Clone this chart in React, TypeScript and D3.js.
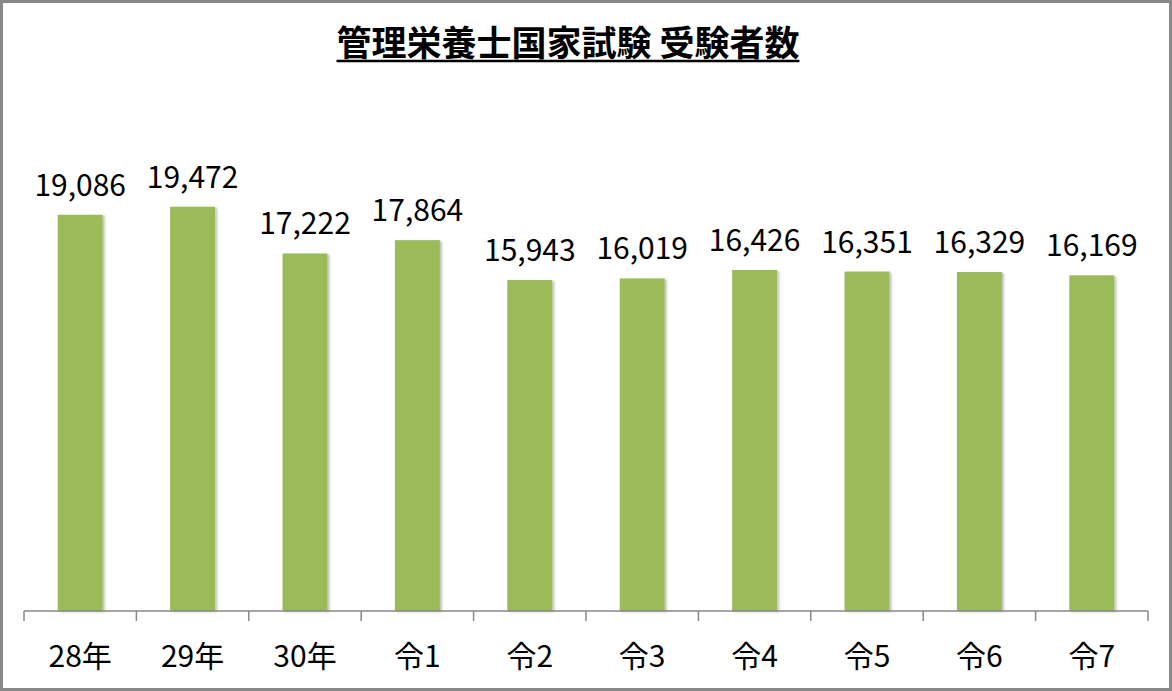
import React, { useEffect, useRef } from 'react';
import * as d3 from 'd3';

const categories = ['28年', '29年', '30年', '令1', '令2', '令3', '令4', '令5', '令6', '令7'];
const examinees = [19086, 19472, 17222, 17864, 15943, 16019, 16426, 16351, 16329, 16169];
const chartTitle = '管理栄養士国家試験 受験者数';

const App: React.FC = () => {
  const svgRef = useRef<SVGSVGElement>(null);

  useEffect(() => {
    if (!svgRef.current) return;
    const width = 1172;
    const height = 691;
    const font = '"Noto Sans CJK JP", "Noto Sans", sans-serif';

    const svg = d3.select(svgRef.current);
    svg.selectAll('*').remove();
    svg.attr('width', width).attr('height', height).attr('viewBox', `0 0 ${width} ${height}`);

    // drop shadow for bars
    const defs = svg.append('defs');
    const f = defs.append('filter').attr('id', 'shadow').attr('x', '-20%').attr('y', '-5%').attr('width', '150%').attr('height', '110%');
    f.append('feDropShadow').attr('dx', 2).attr('dy', 1).attr('stdDeviation', 1.2).attr('flood-color', '#000').attr('flood-opacity', 0.25);

    svg.append('rect')
      .attr('x', 1.5).attr('y', 1.5)
      .attr('width', width - 3).attr('height', height - 3)
      .attr('fill', '#fff').attr('stroke', '#888').attr('stroke-width', 3);

    // title
    const title = svg.append('text')
      .attr('x', 568).attr('y', 56)
      .attr('text-anchor', 'middle')
      .style('font-family', font)
      .style('font-size', '35px')
      .style('font-weight', 'bold')
      .attr('fill', '#000')
      .text(chartTitle);
    const tb = (title.node() as SVGTextElement).getBBox();
    svg.append('line')
      .attr('x1', tb.x).attr('x2', tb.x + tb.width)
      .attr('y1', 61).attr('y2', 61)
      .attr('stroke', '#000').attr('stroke-width', 2.5);

    const x = d3.scaleBand<string>().domain(categories).range([24, 1148]).paddingInner(0.6).paddingOuter(0.3);
    const band = d3.scaleBand<string>().domain(categories).range([24, 1148]);
    const y = d3.scaleLinear().domain([0, 25000]).range([611, 92]);

    svg.append('g')
      .selectAll('rect')
      .data(examinees)
      .enter()
      .append('rect')
      .attr('x', (_, i) => x(categories[i]) as number)
      .attr('y', d => y(d))
      .attr('width', x.bandwidth())
      .attr('height', d => y(0) - y(d))
      .attr('fill', '#9BBB59')
      .attr('filter', 'url(#shadow)');

    const fmt = d3.format(',');
    svg.append('g')
      .selectAll('text')
      .data(examinees)
      .enter()
      .append('text')
      .attr('x', (_, i) => (x(categories[i]) as number) + x.bandwidth() / 2)
      .attr('y', d => y(d) - 19)
      .attr('text-anchor', 'middle')
      .style('font-family', font)
      .style('font-size', '30px')
      .attr('fill', '#000')
      .text(d => fmt(d));

    // axis
    const axis = svg.append('g').attr('transform', 'translate(0,611)');
    axis.append('line').attr('x1', 24).attr('x2', 1148).attr('stroke', '#888').attr('stroke-width', 1.5);
    const tickPos = categories.map(c => band(c) as number).concat([1148]);
    axis.selectAll('line.tick')
      .data(tickPos)
      .enter()
      .append('line')
      .attr('class', 'tick')
      .attr('x1', d => d).attr('x2', d => d)
      .attr('y1', 0).attr('y2', 10)
      .attr('stroke', '#888').attr('stroke-width', 1.5);

    axis.selectAll('text')
      .data(categories)
      .enter()
      .append('text')
      .attr('x', d => (band(d) as number) + band.bandwidth() / 2)
      .attr('y', 56)
      .attr('text-anchor', 'middle')
      .style('font-family', font)
      .style('font-size', '30px')
      .attr('fill', '#000')
      .text(d => d);
  }, []);

  return (
    <div style={{ position: 'absolute', left: 0, top: 0 }}>
      <svg ref={svgRef} style={{ display: 'block' }} />
    </div>
  );
};

export default App;
